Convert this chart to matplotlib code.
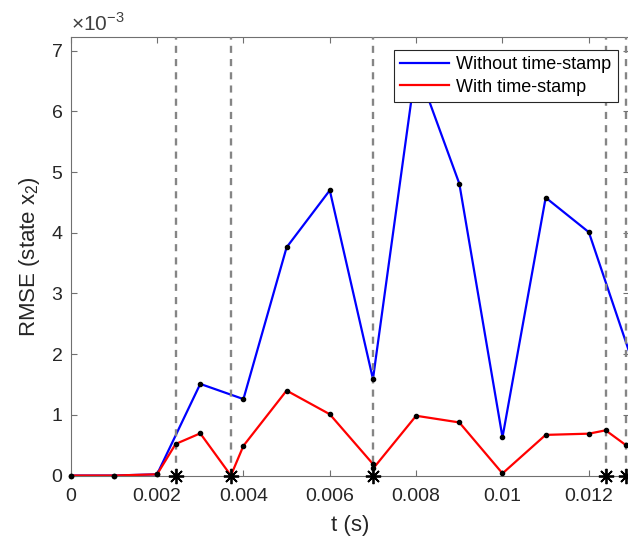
import numpy as np
import matplotlib
matplotlib.use('Agg')
import matplotlib.pyplot as plt
from matplotlib.ticker import FuncFormatter

plt.rcParams['font.family'] = ['Liberation Sans', 'DejaVu Sans']
plt.rcParams['mathtext.fontset'] = 'custom'
plt.rcParams['mathtext.rm'] = 'Liberation Sans'

# RMSE without time-stamp (sampled every 1 ms)
t_without = [0, 0.001, 0.002, 0.003, 0.004, 0.005, 0.006, 0.007, 0.008, 0.009,
             0.010, 0.011, 0.012, 0.013]
rmse_without = [0, 0, 0.02e-3, 1.51e-3, 1.26e-3, 3.76e-3, 4.70e-3, 1.59e-3, 6.76e-3,
                4.81e-3, 0.63e-3, 4.58e-3, 4.01e-3, 1.90e-3]

# RMSE with time-stamp (samples + event instants)
t_with = [0, 0.001, 0.002, 0.00243, 0.003, 0.00371, 0.004, 0.005, 0.006, 0.007,
          0.00701, 0.008, 0.009, 0.010, 0.011, 0.012, 0.01239, 0.01286]
rmse_with = [0, 0, 0.02e-3, 0.52e-3, 0.695e-3, 0.0, 0.49e-3, 1.40e-3, 1.01e-3, 0.19e-3,
             0.12e-3, 0.985e-3, 0.875e-3, 0.035e-3, 0.67e-3, 0.69e-3, 0.745e-3, 0.50e-3]

# time-stamp events
events = [0.00243, 0.00371, 0.00701, 0.01239, 0.01286]

x_ticks = [0, 0.002, 0.004, 0.006, 0.008, 0.010, 0.012]
y_ticks = [0, 1e-3, 2e-3, 3e-3, 4e-3, 5e-3, 6e-3, 7e-3]

fig = plt.figure(figsize=(6.28, 5.41), dpi=100)
ax = fig.add_axes([0.1126, 0.121, 0.889, 0.811])

for e in events:
    ax.axvline(e, color='#858585', lw=1.7, dashes=(3.0, 2.6), zorder=3)

ax.plot(t_without, rmse_without, '-', color='#0000ff', lw=1.6, zorder=2,
        label='Without time-stamp')
ax.plot(t_with, rmse_with, '-', color='#ff0000', lw=1.6, zorder=2,
        label='With time-stamp')
ax.plot(t_without, rmse_without, 'o', color='black', ms=3, zorder=4, clip_on=False)
ax.plot(t_with, rmse_with, 'o', color='black', ms=3, zorder=4, clip_on=False)

ax.plot(events, np.zeros(len(events)), linestyle='none', marker=(8, 2, 0),
        color='black', ms=11, mew=1.3, zorder=5, clip_on=False)

ax.set_xlim(0, 0.01293)
ax.set_ylim(0, 7.23e-3)
ax.set_xticks(x_ticks)
ax.set_yticks(y_ticks)
ax.xaxis.set_major_formatter(FuncFormatter(lambda v, p: f'{v:g}'))
ax.yaxis.set_major_formatter(FuncFormatter(lambda v, p: f'{v * 1e3:.0f}'))

for s in ax.spines.values():
    s.set_color('#707070')
    s.set_linewidth(0.8)
ax.tick_params(direction='in', top=True, right=True, length=4, width=0.8,
               color='#707070', labelsize=14, labelcolor='#262626')
ax.tick_params(axis='x', pad=9)
ax.tick_params(axis='y', pad=6)

ax.set_xlabel('t (s)', fontsize=16, color='#262626', labelpad=7)
ax.set_ylabel(r'RMSE (state x$_2$)', fontsize=16, color='#262626', labelpad=7)
ax.text(0.0, 1.004, r'$\times10^{-3}$', transform=ax.transAxes, fontsize=15,
        color='#404040', ha='left', va='bottom')

leg = ax.legend(loc='upper right', bbox_to_anchor=(0.980, 0.970), borderaxespad=0,
                fontsize=13, frameon=True, fancybox=False, framealpha=1,
                edgecolor='#262626', handlelength=2.7, borderpad=0.35,
                labelspacing=0.3, handletextpad=0.4)
leg.get_frame().set_linewidth(0.8)
leg.set_zorder(10)

fig.savefig('out.png', dpi=100)
